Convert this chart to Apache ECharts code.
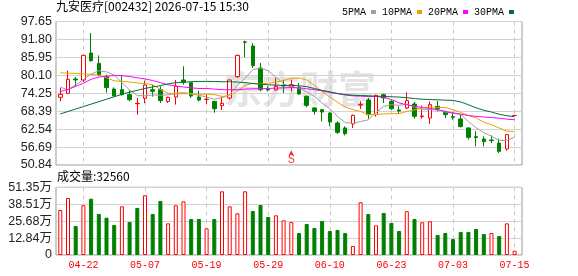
<!DOCTYPE html>
<html><head><meta charset="utf-8">
<script src="https://cdn.jsdelivr.net/npm/echarts/dist/echarts.min.js"></script>
<style>html,body{margin:0;padding:0;background:#fff}#c{width:578px;height:276px}</style>
</head><body><div id="c"></div>
<script>
// ---------- data ----------
const stockName = '九安医疗';
const stockCode = '002432';
const stamp = '2026-07-15 15:30';

const dates = ['04-17','04-20','04-21','04-22','04-23','04-24','04-27','04-28','04-29','04-30',
  '05-06','05-07','05-08','05-11','05-12','05-13','05-14','05-15','05-18','05-19',
  '05-20','05-21','05-22','05-25','05-26','05-27','05-28','05-29','06-01','06-02',
  '06-03','06-04','06-05','06-08','06-09','06-10','06-11','06-12','06-15','06-16',
  '06-17','06-18','06-22','06-23','06-24','06-25','06-26','06-29','06-30','07-01',
  '07-02','07-03','07-06','07-07','07-08','07-09','07-10','07-13','07-14','07-15'];

const opens = [72.92,74.20,78.90,78.57,87.38,84.00,79.66,75.63,75.40,73.79,
  70.85,72.59,75.41,75.41,71.60,73.02,78.57,77.70,73.02,72.20,
  71.60,70.20,72.70,79.66,91.00,89.66,82.48,75.60,75.30,76.83,
  76.29,76.18,73.24,69.44,68.90,67.80,64.54,62.92,64.22,70.42,
  72.04,67.27,73.79,71.60,68.79,69.44,70.74,66.61,66.18,69.98,
  68.00,66.61,65.85,62.92,60.09,59.32,59.00,58.00,56.07,67.00];
const closes = [73.90,78.79,78.60,86.60,84.87,80.30,76.07,73.46,73.80,72.15,
  70.96,76.94,74.87,71.83,72.90,76.50,77.80,73.35,72.04,72.30,
  69.20,70.96,78.57,86.60,90.85,83.24,75.41,75.30,76.50,76.66,
  77.05,74.00,70.30,68.35,68.13,64.87,61.50,61.07,67.05,70.63,
  67.27,73.57,72.70,69.20,68.46,71.83,66.72,66.83,70.53,69.22,
  67.27,66.39,63.35,59.87,59.80,58.46,58.78,55.30,60.74,67.00];
const lows = [71.60,74.00,76.50,77.90,84.55,79.77,74.44,73.02,73.46,71.60,
  67.27,70.96,73.13,71.07,71.07,70.53,77.05,72.70,71.60,70.74,
  67.90,68.79,72.15,79.22,86.00,82.50,74.87,74.87,75.10,74.33,
  74.87,73.79,69.65,67.27,65.10,63.46,60.96,60.52,62.92,69.10,
  65.96,66.60,71.07,68.90,67.48,69.10,65.96,65.96,64.22,68.35,
  66.18,65.63,63.13,59.11,56.94,56.94,58.00,54.76,55.52,67.00];
const highs = [75.96,81.60,79.55,86.70,93.90,86.60,80.30,76.18,80.09,75.20,
  72.70,78.35,77.05,76.50,73.13,78.57,83.03,77.80,75.09,73.79,
  71.70,73.13,78.68,86.83,91.40,90.60,84.10,76.50,79.20,78.68,
  78.68,77.59,73.57,69.65,69.10,68.00,65.09,63.46,67.27,71.60,
  72.70,73.79,74.11,72.15,69.98,74.55,71.40,70.20,71.60,71.83,
  68.57,67.81,67.27,63.13,61.83,60.20,60.52,59.43,60.96,67.00];

const volumes = [341000,432000,220000,377000,427000,311000,283000,228000,369000,250000,
  357000,453000,311000,410000,240000,377000,407000,273000,273000,202000,
  273000,483000,369000,316000,483000,334000,379000,288000,301000,263000,
  250000,167000,235000,205000,258000,182000,190000,167000,68000,400000,
  311000,225000,319000,243000,182000,332000,273000,248000,256000,152000,
  167000,121000,175000,175000,197000,159000,167000,144000,240000,32560];

const ma5 = [76.2,75.4,77.0,78.7,80.5,81.6,81.2,80.2,77.7,75.3,
  73.5,73.4,73.7,73.6,73.7,74.2,74.5,74.0,73.6,73.0,
  72.3,72.8,73.8,76.8,79.2,81.9,82.5,81.6,79.5,77.3,
  76.3,75.9,74.7,73.2,71.0,69.2,66.7,64.7,64.4,65.0,
  65.6,67.9,70.0,70.5,70.3,70.7,69.8,68.9,68.9,68.8,
  68.1,67.9,67.3,65.0,63.0,61.4,60.2,58.9,58.8,60.0];
const ma10 = [80.9,80.8,80.7,80.6,80.4,80.2,79.3,78.3,78.1,77.9,
  77.6,77.4,77.0,75.5,74.3,74.0,74.1,74.1,73.9,73.9,
  73.8,73.2,73.5,75.0,76.8,77.5,77.3,77.5,77.9,78.4,
  79.1,79.2,78.6,76.8,74.8,73.0,71.3,69.8,68.9,68.3,
  67.3,67.3,67.5,67.6,67.6,68.3,68.8,69.4,69.8,69.6,
  69.6,68.9,68.0,67.0,66.2,64.8,64.0,62.9,61.9,61.7];
const ma20 = [74.8,75.5,76.5,77.5,78.8,79.5,79.8,80.0,80.0,79.7,
  79.3,78.9,78.4,77.7,77.0,76.6,76.3,76.0,75.8,75.8,
  75.6,75.4,75.4,75.4,75.6,75.7,75.7,75.8,75.9,76.0,
  76.1,76.0,75.7,75.4,75.0,74.5,74.1,73.7,73.4,73.3,
  73.2,73.2,72.9,72.2,71.1,70.5,70.0,69.6,69.3,68.9,
  68.3,67.8,67.4,67.0,66.7,66.5,66.3,66.1,65.8,65.6];
const ma30 = [67.5,68.3,69.1,69.9,70.7,71.5,72.3,73.1,73.9,74.6,
  75.2,75.8,76.3,76.7,77.3,77.7,77.9,78.0,78.1,78.1,
  78.1,78.0,78.0,77.9,77.7,77.4,77.2,77.0,76.9,76.8,
  76.8,76.7,76.4,75.8,75.2,74.7,74.2,73.8,73.6,73.5,
  73.4,73.3,73.2,73.1,73.0,72.8,72.5,72.3,72.2,72.1,
  72.0,71.9,71.4,70.5,69.5,68.7,68.1,67.4,66.9,66.6];

const maNames = ['5PMA','10PMA','20PMA','30PMA'];
const priceTicks = ['50.84','56.69','62.54','68.39','74.25','80.10','85.95','91.80','97.65'];
const volTicks = ['0','12.84万','25.68万','38.51万','51.35万'];
const xTickLabels = ['04-22','05-07','05-19','05-29','06-10','06-23','07-03','07-15'];
const signals = [{date:'06-03', text:'S'}];

// ---------- chart ----------
const UP = '#ff0000', DOWN = '#008000';
const maColors = ['#a0a0a0','#f0a000','#ff00ff','#007038'];
const priceMin = parseFloat(priceTicks[0]);
const priceMax = parseFloat(priceTicks[priceTicks.length-1]);
const priceStep = (priceMax - priceMin) / (priceTicks.length - 1);
const volMax = parseFloat(volTicks[volTicks.length-1]) * 10000;
const volStep = volMax / (volTicks.length - 1);

const frameL = 56, frameR = 522, dataL = 60.3, dataR = 514.6;
const mainTop = 21.5, mainBot = 165, volTop = 187.3, volBot = 255;

const numFont = '"Liberation Sans", "Noto Sans CJK SC", sans-serif';
const gridBorder = '#999999';
const splitSolid = {lineStyle:{color:'#d2d2d2', width:1}};
const splitDash = {show:true, interval:(i, v) => xTickLabels.includes(v),
  lineStyle:{color:'#c8c8c8', width:1, type:[4,4]}};

const chart = echarts.init(document.getElementById('c'), null, {renderer:'canvas', devicePixelRatio:1});

const candleData = dates.map((d, i) => [opens[i], closes[i], lows[i], highs[i]]);
const volData = volumes.map((v, i) => {
  const up = i === 0 || closes[i] >= closes[i-1];
  return {value: v, itemStyle: up ? {color:'#ffffff', borderColor:UP, borderWidth:1}
                                   : {color:DOWN, borderColor:DOWN, borderWidth:1}};
});

const option = {
  animation: false,
  backgroundColor: '#ffffff',
  legend: {
    left: 337, top: 2, align: 'right', icon: 'rect', itemWidth: 5, itemHeight: 4, itemGap: 6,
    textStyle: {fontFamily: '"Liberation Mono", monospace', fontSize: 10, color: '#000'},
    data: maNames
  },
  grid: [
    {left: frameL, top: mainTop, width: frameR-frameL, height: mainBot-mainTop, show: true, borderColor: gridBorder, borderWidth: 1, outerBoundsMode: 'none'},
    {left: dataL, top: mainTop, width: dataR-dataL, height: mainBot-mainTop, outerBoundsMode: 'none'},
    {left: frameL, top: volTop, width: frameR-frameL, height: volBot-volTop, show: true, borderColor: gridBorder, borderWidth: 1, outerBoundsMode: 'none'},
    {left: dataL, top: volTop, width: dataR-dataL, height: volBot-volTop, outerBoundsMode: 'none'}
  ],
  xAxis: [
    {gridIndex: 0, type: 'value', show: false, min: 0, max: 1},
    {gridIndex: 1, type: 'category', data: dates, boundaryGap: false,
     axisLine: {show:false}, axisTick: {show:false}, axisLabel: {show:false}, splitLine: splitDash},
    {gridIndex: 2, type: 'value', show: false, min: 0, max: 1},
    {gridIndex: 3, type: 'category', data: dates, boundaryGap: false,
     axisLine: {show:false}, axisTick: {show:false},
     axisLabel: {show: true, interval: (i, v) => xTickLabels.includes(v), color: '#ff0000',
                 fontFamily: '"Liberation Mono", monospace', fontSize: 10, margin: 5},
     splitLine: splitDash}
  ],
  yAxis: [
    {gridIndex: 0, type: 'value', min: priceMin, max: priceMax, interval: priceStep,
     axisLine: {show:false}, axisTick: {show:false}, splitLine: splitSolid,
     axisLabel: {formatter: v => priceTicks[Math.round((v - priceMin) / priceStep)],
                 color: '#222', fontFamily: numFont, fontSize: 12.5, margin: 4}},
    {gridIndex: 1, type: 'value', min: priceMin, max: priceMax, show: false},
    {gridIndex: 2, type: 'value', min: 0, max: volMax, interval: volStep,
     axisLine: {show:false}, axisTick: {show:false}, splitLine: splitSolid,
     axisLabel: {formatter: v => volTicks[Math.round(v / volStep)],
                 color: '#222', fontFamily: numFont, fontSize: 12.5, margin: 4}},
    {gridIndex: 3, type: 'value', min: 0, max: volMax, show: false}
  ],
  graphic: [
    {type: 'text', left: 224, top: 70, z: -1, silent: true,
     style: {text: '东方财富', font: 'bold 38px "Noto Sans CJK SC"', fill: '#e4e4e4'}},
    {type: 'text', left: 56, top: 0,
     style: {text: stockName + '[' + stockCode + '] ' + stamp, font: '12px "Noto Sans CJK SC"', fill: '#000'}},
    {type: 'text', left: 57, top: 170,
     style: {text: '成交量:' + volumes[volumes.length-1], font: '12px "Noto Sans CJK SC"', fill: '#000'}}
  ],
  series: [
    {type: 'candlestick', name: 'K', xAxisIndex: 1, yAxisIndex: 1, data: candleData,
     barWidth: 4, clip: false,
     itemStyle: {color: '#ffffff', color0: DOWN, borderColor: UP, borderColor0: DOWN, borderWidth: 1}},
    ...[ma5, ma10, ma20, ma30].map((arr, k) => ({
      type: 'line', name: maNames[k], xAxisIndex: 1, yAxisIndex: 1, data: arr,
      showSymbol: false, symbol: 'none', smooth: false, clip: false,
      lineStyle: {color: maColors[k], width: 1}, itemStyle: {color: maColors[k]}
    })),
    {type: 'scatter', name: 'signal', xAxisIndex: 1, yAxisIndex: 1, symbol: 'circle', symbolSize: 1,
     itemStyle: {color: 'rgba(0,0,0,0)'}, clip: false, z: 5,
     data: signals.map(s => [s.date, priceMin]),
     label: {show: true, position: 'top', distance: 0,
       formatter: p => '{a|▲}\n{b|' + signals[p.dataIndex].text + '}',
       rich: {a: {color: UP, fontSize: 6, lineHeight: 5, fontFamily: '"DejaVu Sans"', align: 'center'},
              b: {color: UP, fontSize: 12, lineHeight: 10, fontFamily: '"Liberation Mono", monospace', align: 'center'}}}},
    {type: 'bar', name: 'VOL', xAxisIndex: 3, yAxisIndex: 3, data: volData, barWidth: 4, clip: false}
  ]
};
chart.setOption(option);
</script>
</body></html>
